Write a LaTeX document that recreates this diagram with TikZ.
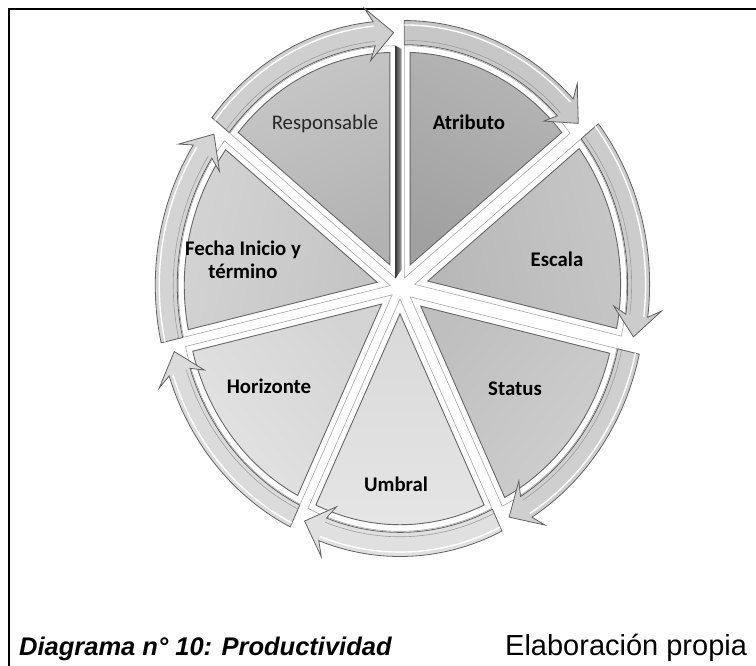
\documentclass[tikz,border=0pt]{standalone}
\usepackage{fontspec}
\setmainfont{Carlito}
\newfontfamily\capfont{Liberation Sans}
\begin{document}
\begin{tikzpicture}[x=1pt,y=-1pt,
  lbl/.style={font=\fontsize{20.8}{23}\selectfont\bfseries, text=black, align=center, inner sep=0pt},
  lblreg/.style={font=\fontsize{20.8}{23}\selectfont, text=black!85, align=center, inner sep=0pt},
  wedgeout/.style={fill=white, draw=black!35, line width=0.6pt},
  wedgein/.style={draw=black!60, line width=0.9pt},
  bandsty/.style={draw=black!62, line width=0.8pt},
  groove/.style={draw=black!38, line width=0.6pt},
  shine/.style={draw=white, line width=1.4pt},
  sidestrip/.style={left color=black!75, right color=black!35, draw=none}]
\useasboundingbox (0,0) rectangle (756,666);
\fill[white] (0,0) rectangle (756,666);
\draw[line width=1.3pt] (9,666) -- (9,9) -- (756,9);

\def\Ro{235}
\def\Ri{213}
\def\Rw{212}
\begin{scope}[shift={(400,288)}, yscale=-1.096]
% wedges
\foreach \kk/\dd/\cA/\cB in {
  0/10/black!37/black!29,
  1/15/black!28/black!22,
  2/13/black!25/black!19,
  3/10/black!15/black!10,
  4/10/black!17/black!11,
  5/10/black!23/black!17,
  6/10/black!30/black!22}
{
  \pgfmathsetmacro\ta{90-51.428571*\kk}
  \pgfmathsetmacro\tb{\ta-51.428571}
  \pgfmathsetmacro\tm{\ta-25.714286}
  \pgfmathsetmacro\tai{\ta-1.6}
  \pgfmathsetmacro\tbi{\tb+1.6}
  \pgfmathsetmacro\Rwi{\Rw-6}
  \pgfmathsetmacro\sa{\tm-90}
  \begin{scope}[shift={(\tm:\dd)}]
    \path[wedgeout] (0,0) -- (\tb:\Rw) arc[start angle=\tb,end angle=\ta,radius=\Rw] -- cycle;
    \path[wedgein, top color=\cB, bottom color=\cA, shading angle=\sa]
      (\tm:13.5) -- (\tbi:\Rwi) arc[start angle=\tbi,end angle=\tai,radius=\Rwi] -- cycle;
  \end{scope}
}
% dark side face of the top gap
\begin{scope}[shift={(115.714286:10)}]
  \path[sidestrip] (0,0) -- (0,\Rw) -- (6,\Rw-3) -- (6,8) -- cycle;
\end{scope}
% bands with arrowheads
\foreach \kk/\dd/\cC in {
  0/10/black!22,
  1/15/black!20,
  2/13/black!19,
  3/10/black!12,
  4/10/black!14,
  5/10/black!17,
  6/10/black!19}
{
  \pgfmathsetmacro\ta{90-51.428571*\kk}
  \pgfmathsetmacro\tb{\ta-51.428571}
  \pgfmathsetmacro\tm{\ta-25.714286}
  \pgfmathsetmacro\tbA{\tb+5.5}
  \pgfmathsetmacro\tbB{\tb+7.2}
  \pgfmathsetmacro\tbT{\tb+0.5}
  \pgfmathsetmacro\Rm{(\Ro+\Ri)/2}
  \pgfmathsetmacro\Rao{\Ro+13}
  \pgfmathsetmacro\Rai{\Ri-13}
  \pgfmathsetmacro\Rg{\Ri+4}
  \pgfmathsetmacro\Rs{\Ro-4}
  \begin{scope}[shift={(\tm:\dd)}]
    \path[bandsty, fill=\cC]
      (\ta:\Ro) arc[start angle=\ta,end angle=\tbA,radius=\Ro]
      -- (\tbB:\Rao) -- (\tbT:\Rm) -- (\tbB:\Rai) -- (\tbA:\Ri)
      arc[start angle=\tbA,end angle=\ta,radius=\Ri] -- cycle;
    \draw[groove] (\tbA:\Rg) arc[start angle=\tbA,end angle=\ta,radius=\Rg];
    \draw[shine] (\tbA:\Rs) arc[start angle=\tbA,end angle=\ta,radius=\Rs];
  \end{scope}
}
\end{scope}

\node[lblreg] (responsable) at (325,124) {Responsable};
\node[lbl] (atributo) at (469,122) {Atributo};
\node[lbl] (escala) at (557,259) {Escala};
\node[lbl] (status) at (515,389) {Status};
\node[lbl] (umbral) at (396,484) {Umbral};
\node[lbl] (horizonte) at (269,386) {Horizonte};
\node[lbl] (fecha) at (243,260) {Fecha Inicio y\\término};

\node[font=\capfont\bfseries\itshape\fontsize{25.5}{28}\selectfont, anchor=base west, inner sep=0pt] (caption) at (19,655) {Diagrama n° 10: Productividad};
\node[font=\capfont\fontsize{29}{32}\selectfont, anchor=base west, inner sep=0pt] (source) at (505,655) {Elaboración propia};
\end{tikzpicture}
\end{document}
